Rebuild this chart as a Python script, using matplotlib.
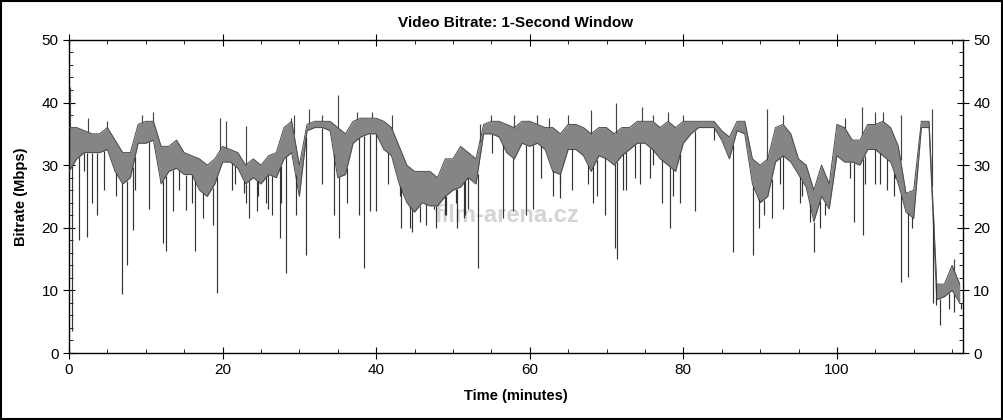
import numpy as np
import matplotlib.pyplot as plt
from matplotlib.ticker import MultipleLocator
from matplotlib.patches import Rectangle

plt.rcParams['font.family'] = ['Liberation Sans', 'DejaVu Sans']

# band of the 1-second bitrate, read per minute (Mbps)
minutes = list(range(0, 117))
band_hi = [36, 36, 35.5, 35, 35, 36, 34, 32, 32, 36.5,
           37, 37, 33, 33, 34, 32, 31.5, 31, 30, 31,
           33, 32.5, 32, 30, 31, 30, 31.5, 32, 36, 37,
           30, 36.5, 37, 37, 37, 36, 35, 37, 37.5, 37.5,
           37.5, 37, 36, 33, 30, 29, 29, 29, 28, 31,
           31, 33, 32, 31, 36.5, 37, 37, 36.5, 36, 37,
           37, 36.5, 36, 36, 35, 36.5, 36.5, 36, 35, 36,
           36, 35, 36, 36, 37, 37, 37, 36, 37, 36,
           37, 37, 37, 37, 37, 35.5, 34.5, 37, 37, 31,
           30, 31, 36, 36.5, 35, 31, 30, 26, 30, 27,
           36.5, 36, 34, 34, 36.5, 36.5, 37, 36, 33, 25.5,
           26, 37, 37, 11, 11, 14, 11]
band_lo = [29, 31, 32, 32, 32, 32.5, 29, 27, 28, 33.5,
           33.5, 34, 27, 29, 29.5, 28.5, 28.5, 26, 25, 27,
           30.5, 30.5, 29.5, 27, 28, 27, 28.5, 28, 31, 32,
           25, 35.5, 36, 36, 35.5, 28, 28.5, 33.5, 34.5, 35,
           35, 32.5, 31.5, 27, 24, 22.5, 24, 23.5, 23.5, 25,
           26, 26.5, 28, 27, 35, 35, 34.5, 32, 31, 33.5,
           33, 33.5, 32.5, 29, 28.5, 32.5, 32.5, 31.5, 29, 31.5,
           31, 30, 31.5, 32.5, 33.5, 33.5, 32.5, 31, 30, 29,
           33.5, 35, 36, 36, 36, 34, 31, 35.5, 35, 27,
           24, 25, 30.5, 31.5, 30.5, 28.5, 26.5, 21, 25, 23,
           31.5, 30.5, 30.5, 30, 32.5, 32.5, 31.5, 30.5, 27, 22.5,
           21.5, 36, 36, 8.5, 9, 10, 8]

# short drops below the band
dip_t = [0.4, 1.3, 1.9, 2.4, 3.0, 3.6, 4.6, 6.1, 6.9, 7.5, 8.3, 8.6, 10.4, 12.2, 12.6,
         13.5, 14.3, 15.2, 16.0, 16.4, 17.5, 18.7, 19.3, 21.2, 21.6, 22.8, 23.0, 23.4,
         24.5, 24.6, 25.7, 25.9, 26.5, 27.5, 27.6, 28.3, 29.5, 30.9, 33.0, 34.5, 35.1,
         36.2, 37.8, 38.4, 39.2, 40.0, 41.5, 43.1, 43.2, 44.4, 44.7, 45.7, 46.5, 47.5,
         47.8, 49.0, 49.1, 50.4, 50.5, 51.5, 51.6, 52.0, 53.2, 55.1, 56.5, 57.8, 59.5,
         60.4, 61.5, 63.0, 63.9, 64.0, 65.5, 67.6, 68.3, 68.7, 69.8, 71.1, 71.3, 72.2,
         72.6, 73.7, 74.3, 75.7, 76.0, 77.2, 78.3, 78.6, 79.6, 81.5, 84.0, 86.5, 89.1,
         89.8, 90.5, 91.5, 92.6, 93.0, 95.2, 95.5, 96.5, 97.0, 97.8, 98.5, 101.7,
         102.2, 103.4, 103.6, 105.0, 105.6, 106.5, 107.5, 107.6, 108.4, 109.2, 109.8,
         112.5, 112.9, 113.4, 114.6, 115.3, 116.2]
dip_v = [3.5, 18, 29, 18.5, 24, 22, 26, 25, 9.5, 14, 19.6, 26, 23, 17.5, 16.3,
         22.7, 26, 22.8, 24, 16.3, 21.5, 20.4, 9.6, 26, 27, 25.5, 24, 21.5,
         22.6, 25, 24, 23, 22, 18.3, 24, 12.8, 22, 15.6, 27, 22, 18.3,
         24, 22, 13.6, 22.6, 22.6, 27, 25, 20, 20, 19.4, 21, 20.5, 23,
         20, 22, 22, 24, 20, 21.5, 22, 23, 13.5, 32, 21.5, 22.6, 22,
         23, 28, 25, 27, 24.7, 26, 27, 24, 25, 22, 16.7, 15, 26,
         26, 28, 27, 28, 30, 24, 19.9, 25, 24, 22.6, 34, 16.2, 15.7,
         20, 22, 21.5, 27, 23, 24, 25, 21, 16.2, 20, 22, 28,
         21, 18.8, 27, 27, 27, 26, 25, 28, 11.4, 12.2, 20,
         8, 7.7, 4.5, 7, 6.5, 7]

# short peaks above the band
peak_t = [0.1, 2.5, 5.0, 9.5, 11.0, 19.7, 20.5, 23.0, 28.9, 29.3, 31.3, 33.0,
          35.0, 37.5, 39.5, 42.1, 53.5, 55.0, 58.0, 61.0, 62.5, 65.0, 68.0, 71.2,
          74.6, 76.0, 78.0, 80.0, 90.9, 93.0, 101.0, 103.3, 105.0, 106.0, 108.3,
          112.4, 115.3]
peak_v = [42.5, 37.5, 37, 38, 38.5, 37.5, 37, 36.3, 37.5, 38, 39, 38,
          41.2, 38.5, 38.5, 38, 36.5, 38, 38, 38, 37.5, 38, 38.8, 40,
          39.3, 38, 38.5, 38, 39, 38, 37.5, 39.3, 38.5, 38.5, 38,
          39, 15]

fig = plt.figure(figsize=(10.04, 4.2), dpi=100)
ax = fig.add_axes([0.0687, 0.1595, 0.8903, 0.7455])

# watermark
ax.text(57, 22, 'film-arena.cz', color='#d4d4d4', fontsize=17, fontweight='bold',
        ha='center', va='center', zorder=0)

ax.fill_between(minutes, band_lo, band_hi, color='#858585', lw=0, zorder=2)
ax.plot(minutes, band_hi, color='#4a4a4a', lw=0.7, zorder=3)
ax.plot(minutes, band_lo, color='#4a4a4a', lw=0.7, zorder=3)

dip_top = np.interp(dip_t, minutes, band_lo)
ax.vlines(dip_t, dip_v, dip_top, color='#333333', lw=0.85, zorder=3)
peak_base = np.interp(peak_t, minutes, band_hi)
ax.vlines(peak_t, peak_base, peak_v, color='#444444', lw=0.85, zorder=3)

ax.set_xlim(0, 116.4)
ax.set_ylim(0, 50)
ax.xaxis.set_major_locator(MultipleLocator(20))
ax.xaxis.set_minor_locator(MultipleLocator(5))
ax.yaxis.set_major_locator(MultipleLocator(10))
ax.yaxis.set_minor_locator(MultipleLocator(2))
ax.tick_params(which='major', direction='inout', length=8, width=0.8, labelsize=11,
               right=True, labelright=True, top=True)
ax.tick_params(which='minor', direction='in', length=3, width=0.6,
               right=True, top=True)
for s in ax.spines.values():
    s.set_linewidth(1.0)

ax.set_title('Video Bitrate: 1-Second Window', fontsize=11, fontweight='bold', pad=9)
ax.set_xlabel('Time (minutes)', fontsize=10.5, fontweight='bold', labelpad=8)
ax.set_ylabel('Bitrate (Mbps)', fontsize=10.5, fontweight='bold', labelpad=10)

fig.add_artist(Rectangle((0.001, 0.002), 0.997, 0.995, transform=fig.transFigure,
                         fill=False, edgecolor='black', lw=1.5))

fig.savefig('out.png', dpi=100)
